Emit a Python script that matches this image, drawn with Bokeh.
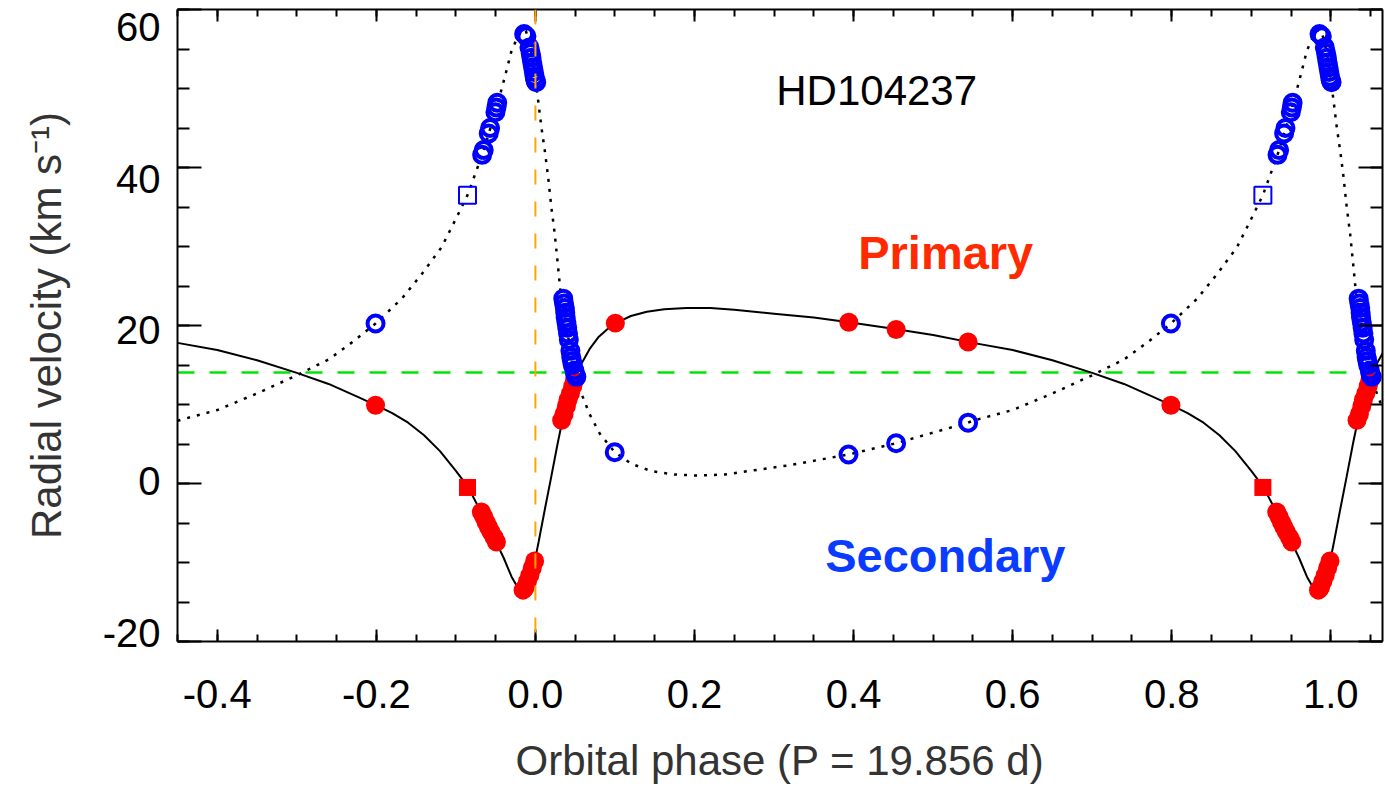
from bokeh.plotting import figure
from bokeh.models import (LinearAxis, SingleIntervalTicker, Span, Label,
                          PrintfTickFormatter, Range1d)
from bokeh.embed import file_html
from bokeh.resources import INLINE

# ---------------- data ----------------
# primary star: filled red circles (orbital phase, radial velocity km/s)
prim_phase = [-0.201, -0.068, -0.065, -0.062, -0.059, -0.056, -0.052, -0.049,
              -0.0155, -0.013, -0.010, -0.007, -0.004, -0.001,
              0.033, 0.036, 0.039, 0.041, 0.044, 0.047, 0.049,
              0.1005, 0.394, 0.4535, 0.544]
prim_vel = [9.9, -3.6, -4.2, -4.9, -5.5, -6.1, -6.8, -7.4,
            -13.5, -13.2, -12.4, -11.6, -10.7, -9.8,
            8.0, 8.8, 9.8, 10.6, 11.4, 12.3, 13.0,
            20.3, 20.4, 19.5, 17.9]
# primary: red square
prim_sq_phase = [-0.0854]
prim_sq_vel = [-0.5]

# secondary star: open blue circles
sec_phase = [-0.201, -0.067, -0.065, -0.0587, -0.057, -0.0503, -0.049, -0.048,
             -0.0142, -0.0113, -0.0075, -0.006, -0.005, -0.004, -0.003, -0.002,
             -0.001, 0.0, 0.001,
             0.035, 0.036, 0.037, 0.0375, 0.038, 0.039, 0.040, 0.041, 0.042,
             0.044, 0.045, 0.046, 0.047, 0.049, 0.050, 0.0515,
             0.0997, 0.3936, 0.4535, 0.544]
sec_vel = [20.25, 41.6, 42.2, 44.3, 45.0, 47.0, 47.6, 48.2,
           56.9, 56.6, 55.2, 54.5, 53.9, 53.3, 52.7, 52.1,
           51.5, 51.0, 50.8,
           23.4, 22.8, 22.2, 21.6, 21.0, 20.4, 19.7, 19.0, 18.2,
           16.8, 16.0, 15.5, 15.0, 14.3, 13.8, 13.5,
           3.96, 3.67, 5.1, 7.7]
# secondary: open blue square
sec_sq_phase = [-0.0854]
sec_sq_vel = [36.5]

# orbit solution curves, one period
prim_curve_phase = [-0.45, -0.40, -0.35, -0.30, -0.26, -0.222, -0.20, -0.18, -0.16,
                    -0.14, -0.12, -0.10, -0.085, -0.07, -0.06, -0.05, -0.04, -0.03,
                    -0.025, -0.02, -0.016, -0.013, -0.009, -0.005, -0.001, 0.004,
                    0.012, 0.02, 0.028, 0.034, 0.042, 0.05, 0.058, 0.068, 0.079,
                    0.09, 0.101, 0.12, 0.14, 0.162, 0.19, 0.22, 0.25, 0.30, 0.35,
                    0.394, 0.45, 0.50, 0.55]
prim_curve_vel = [17.8, 16.9, 15.6, 14.0, 12.6, 10.9, 9.9, 8.9, 7.7,
                  6.1, 4.1, 1.6, -0.4, -3.3, -5.4, -7.3, -9.4, -11.8,
                  -12.7, -13.4, -13.75, -13.7, -12.8, -11.5, -9.9, -7.4,
                  -3.2, 0.9, 5.1, 8.0, 11.0, 13.3, 15.2, 17.0, 18.5,
                  19.5, 20.3, 21.2, 21.75, 22.05, 22.2, 22.2, 22.0, 21.5, 21.0,
                  20.4, 19.6, 18.8, 17.8]
sec_curve_phase = [-0.45, -0.40, -0.35, -0.30, -0.26, -0.23, -0.201, -0.168, -0.143,
                   -0.118, -0.099, -0.0854, -0.067, -0.0587, -0.0503, -0.0386, -0.030,
                   -0.022, -0.016, -0.012, -0.008, -0.004, 0.0, 0.0034, 0.0075,
                   0.0117, 0.016, 0.020, 0.0243, 0.0285, 0.0318, 0.036, 0.040, 0.045,
                   0.0515, 0.058, 0.068, 0.081, 0.0997, 0.1206, 0.146, 0.175, 0.204,
                   0.238, 0.317, 0.3936, 0.4535, 0.544, 0.55]
sec_curve_vel = [7.95, 9.3, 11.4, 13.7, 15.7, 17.9, 20.25, 23.4, 26.5,
                 29.9, 33.7, 36.5, 41.6, 44.3, 47.0, 51.4, 54.8,
                 56.6, 57.4, 57.3, 55.9, 53.9, 51.2, 48.5, 45.1,
                 42.2, 38.8, 35.0, 31.6, 27.4, 24.0, 21.8, 19.3, 16.2,
                 13.5, 11.35, 8.8, 6.3, 3.96, 2.5, 1.56, 1.14, 1.0,
                 1.14, 2.28, 3.67, 5.1, 7.7, 7.95]

systemic_velocity = 14.05
periastron_phase = 0.0

title_text = "HD104237"
x_title = "Orbital phase (P = 19.856 d)"
y_title = "Radial velocity (km s\u207b\u00b9)"


def two_cycles(ph, v):
    """each phase is shown at phase and phase + 1"""
    return list(ph) + [q + 1.0 for q in ph], list(v) + list(v)


FONT = "Liberation Sans"

p = figure(width=1385, height=786, x_range=Range1d(-0.45, 1.065), y_range=Range1d(-20, 60),
           output_backend="svg", toolbar_location=None,
           min_border_left=177, min_border_right=3, min_border_top=9, min_border_bottom=145)
p.grid.visible = False
p.outline_line_color = None
p.background_fill_color = "white"
p.border_fill_color = "white"
# range used only to place the y tick labels the way the original (IDL) plot does
p.extra_y_ranges = {"labels": Range1d(-21.14, 62.35)}

xticker = SingleIntervalTicker(interval=0.2, num_minor_ticks=4)
yticker = SingleIntervalTicker(interval=20, num_minor_ticks=4)


def style_axis(ax, ticker, major_in, minor_in):
    ax.ticker = ticker
    ax.axis_line_width = 2
    ax.axis_line_color = "black"
    ax.major_tick_in = major_in
    ax.major_tick_out = 0
    ax.minor_tick_in = minor_in
    ax.minor_tick_out = 0
    ax.major_tick_line_width = 2
    ax.minor_tick_line_width = 2
    ax.major_tick_line_color = "black"
    ax.minor_tick_line_color = "black"


def hide_labels(ax):
    ax.major_label_text_font_size = "0px"
    ax.major_label_text_color = None
    ax.major_label_standoff = 0


xa = p.xaxis[0]
style_axis(xa, xticker, 12, 7)
xa.formatter = PrintfTickFormatter(format="%.1f")
xa.major_label_text_font = FONT
xa.major_label_text_font_size = "40px"
xa.major_label_text_color = "black"
xa.major_label_standoff = 38
xa.axis_label = x_title
xa.axis_label_text_font = FONT
xa.axis_label_text_font_size = "42px"
xa.axis_label_text_font_style = "normal"
xa.axis_label_text_color = "#333333"
xa.axis_label_standoff = 26

ya = p.yaxis[0]
style_axis(ya, yticker, 24, 12)
hide_labels(ya)

# tick-label axis for y (no line, no ticks), carries the y title
yl = LinearAxis(y_range_name="labels", ticker=SingleIntervalTicker(interval=20, num_minor_ticks=0),
                formatter=PrintfTickFormatter(format="%d"))
yl.axis_line_color = None
yl.major_tick_line_color = None
yl.minor_tick_line_color = None
yl.major_tick_in = 0
yl.major_tick_out = 0
yl.minor_tick_in = 0
yl.minor_tick_out = 0
yl.major_label_text_font = FONT
yl.major_label_text_font_size = "40px"
yl.major_label_text_color = "black"
yl.major_label_standoff = 17
yl.axis_label = y_title
yl.axis_label_text_font = FONT
yl.axis_label_text_font_size = "42px"
yl.axis_label_text_font_style = "normal"
yl.axis_label_text_color = "#333333"
yl.axis_label_standoff = 30
p.add_layout(yl, "left")

top = LinearAxis()
style_axis(top, xticker, 12, 7)
hide_labels(top)
p.add_layout(top, "above")

right = LinearAxis()
style_axis(right, yticker, 24, 12)
hide_labels(right)
p.add_layout(right, "right")

# systemic velocity line (beneath the data)
p.add_layout(Span(location=systemic_velocity, dimension="width", line_color="#00e600",
                  line_width=2.5, line_dash="17 15", level="underlay"))

# orbit curves
cx, cy = two_cycles(prim_curve_phase, prim_curve_vel)
p.line(cx, cy, line_color="black", line_width=2)
cx, cy = two_cycles(sec_curve_phase, sec_curve_vel)
p.line(cx, cy, line_color="black", line_width=2.5, line_dash="3 7")

# data points
x, y = two_cycles(prim_phase, prim_vel)
p.scatter(x, y, marker="circle", size=19, fill_color="red", line_color=None)
x, y = two_cycles(prim_sq_phase, prim_sq_vel)
p.scatter(x, y, marker="square", size=17, fill_color="red", line_color=None)
x, y = two_cycles(sec_phase, sec_vel)
p.scatter(x, y, marker="circle", size=16, fill_color=None, line_color="blue", line_width=4)
x, y = two_cycles(sec_sq_phase, sec_sq_vel)
p.scatter(x, y, marker="square", size=17, fill_color=None, line_color="blue", line_width=2)

# periastron line
p.add_layout(Span(location=periastron_phase, dimension="height", line_color="orange",
                  line_width=2, line_dash="15 17"))

# texts inside the frame
p.add_layout(Label(x=0.3028, y=49.75, text=title_text, text_font=FONT, text_font_size="42px",
                   text_color="black", text_align="left", text_baseline="alphabetic"))
p.add_layout(Label(x=0.4058, y=29.24, text="Primary", text_font=FONT, text_font_size="47px",
                   text_font_style="bold", text_color="#ff2a00", text_align="left",
                   text_baseline="alphabetic"))
p.add_layout(Label(x=0.3643, y=-9.11, text="Secondary", text_font=FONT, text_font_size="47px",
                   text_font_style="bold", text_color="#0a3cff", text_align="left",
                   text_baseline="alphabetic"))

open("out.html", "w").write(file_html(p, INLINE))
